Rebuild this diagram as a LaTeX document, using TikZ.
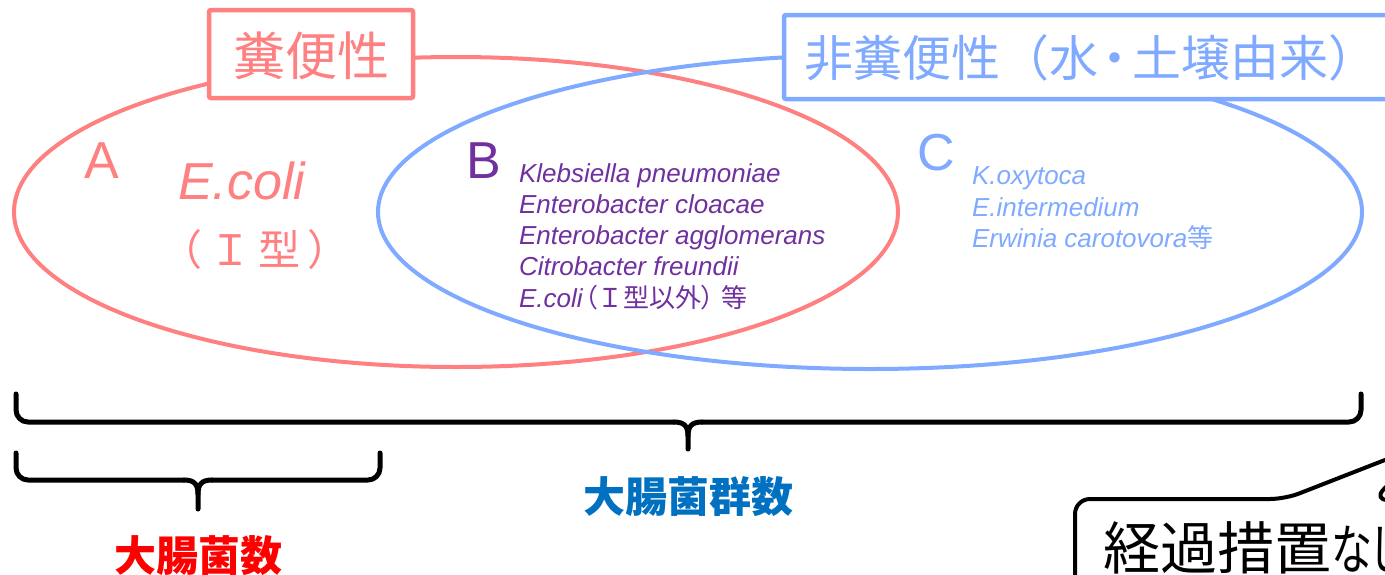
\documentclass[tikz,border=0pt]{standalone}
\usepackage{graphicx}
\usepackage{fontspec}
\setmainfont{Liberation Sans}
\newfontfamily\jp{Noto Sans CJK JP}
\newfontfamily\jpp[Script=CJK, RawFeature=+palt]{Noto Sans CJK JP}
\definecolor{cRed}{HTML}{FF8080}
\definecolor{cBlue}{HTML}{80AAFF}
\definecolor{cPurple}{HTML}{7030A0}
\definecolor{cLabBlue}{HTML}{0070C0}
\definecolor{cLabRed}{HTML}{FF0000}
\tikzset{
  ell/.style={line width=4pt},
  bracepath/.style={line width=5pt, line cap=round, line join=round, black},
  lab/.style={inner sep=0pt, outer sep=0pt},
  titlebox/.style={line width=4.5pt, fill=white, rounded corners=2pt},
}
\newcommand{\fsz}[1]{\fontsize{#1}{#1}\selectfont}
\begin{document}
\begin{tikzpicture}[x=1pt,y=-1pt]
\useasboundingbox (0,0) rectangle (1385,574);
\clip (0,0) rectangle (1385,574);
\fill[white] (0,0) rectangle (1385,574);

% ellipses
\draw[cRed, ell] (456,212) ellipse [x radius=442, y radius=155];
\draw[cBlue, ell] (870,212) ellipse [x radius=492, y radius=157];

% title boxes
\node[titlebox, draw=cRed, minimum width=204pt, minimum height=88pt, lab] (fec) at (311,54) {};
\node[lab, cRed] (fect) at (311,56) {\jp\fsz{52}糞便性};
\draw[titlebox, draw=cBlue] (784,15) rectangle (1420,99);
\node[lab, anchor=west, cBlue] (nfect) at (804,58) {\jp\fsz{49}非糞便性（水\makebox[0.71em][c]{・}土壌由来）};

% region A
\node[lab, cRed] (A) at (102,161) {\fsz{52}A};
\node[lab, cRed, anchor=base west] (ecoli) at (178,199) {\fsz{52}\itshape E.coli};
\node[lab, cRed, anchor=base] (type1) at (255,265) {\jp\fsz{42}（\hspace{0.17em}Ｉ\hspace{0.17em}型\hspace{0.17em}）};

% region B
\node[lab, cPurple] (B) at (484,161) {\fsz{52}B};
\node[lab, cPurple, anchor=base west] (b1) at (519,182) {\fsz{26}\itshape Klebsiella pneumoniae};
\node[lab, cPurple, anchor=base west] (b2) at (519,213) {\fsz{26}\itshape Enterobacter cloacae};
\node[lab, cPurple, anchor=base west] (b3) at (519,244) {\fsz{26}\itshape Enterobacter agglomerans};
\node[lab, cPurple, anchor=base west] (b4) at (519,275) {\fsz{26}\itshape Citrobacter freundii};
\node[lab, cPurple, anchor=base west] (b5) at (519,307) {\fsz{26}{\itshape E.coli}\hspace{2pt}{\jpp（}{\jp Ｉ型以外}{\jpp）}\hspace{0.25em}{\jp 等}};

% region C
\node[lab, cBlue] (C) at (936,153) {\fsz{52}C};
\node[lab, cBlue, anchor=base west] (c1) at (972,184) {\fsz{26}\itshape K.oxytoca};
\node[lab, cBlue, anchor=base west] (c2) at (972,216) {\fsz{26}\itshape E.intermedium};
\node[lab, cBlue, anchor=base west] (c3) at (972,247) {\fsz{26}{\itshape Erwinia carotovora}{\jp 等}};

% big brace
\draw[bracepath, rounded corners=12pt] (16,394) |- (674,422);
\draw[bracepath] (674,422) .. controls (684,422) and (688,426) .. (688,436) -- (688,449);
\draw[bracepath, rounded corners=12pt] (1361,394) |- (702,422);
\draw[bracepath] (702,422) .. controls (692,422) and (688,426) .. (688,436);

% small brace
\draw[bracepath, rounded corners=12pt] (16,453) |- (184,480);
\draw[bracepath] (184,480) .. controls (194,480) and (198,484) .. (198,494) -- (198,509);
\draw[bracepath, rounded corners=12pt] (380,453) |- (212,480);
\draw[bracepath] (212,480) .. controls (202,480) and (198,484) .. (198,494);

% labels
\node[lab, cLabBlue] (gun) at (688,497) {\jp\bfseries\fsz{42}大腸菌群数};
\node[lab, cLabRed] (kin) at (198,556) {\jp\bfseries\fsz{42}大腸菌数};

% callout
\draw[line width=4pt, black, fill=white, line join=round, rounded corners=15pt]
  (1075,620) -- (1075,499) -- (1285,499) -- (1431,442) -- (1373,500) -- (1420,500);
\node[lab, anchor=base west] (note) at (1103,569) {\jp\fsz{57}経過措置\scalebox{0.72}[0.95]{\jpp\fsz{57}なし}};
\end{tikzpicture}
\end{document}
